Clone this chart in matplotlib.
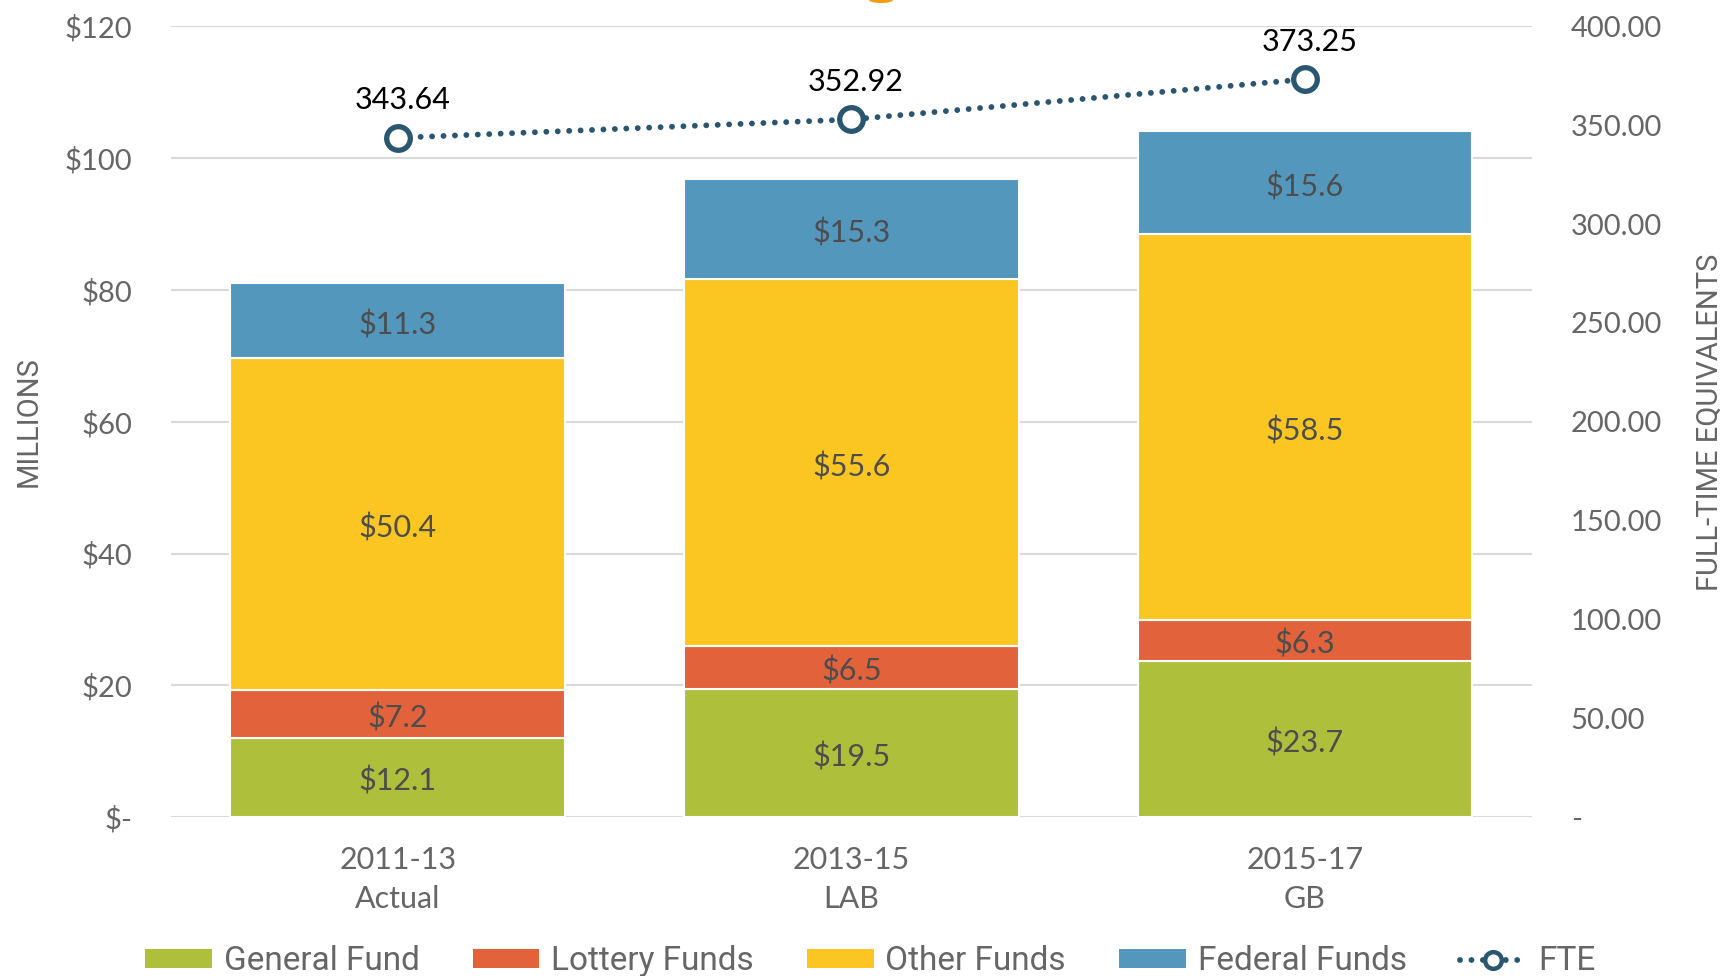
import matplotlib
matplotlib.use("Agg")
import matplotlib.pyplot as plt
from matplotlib.lines import Line2D
from matplotlib.patches import Patch, Ellipse
import numpy as np

categories = ["2011-13\nActual", "2013-15\nLAB", "2015-17\nGB"]
general_fund = [12.1, 19.5, 23.7]
lottery_funds = [7.2, 6.5, 6.3]
other_funds = [50.4, 55.6, 58.5]
federal_funds = [11.3, 15.3, 15.6]
fte = [343.64, 352.92, 373.25]
left_ticks = [0, 20, 40, 60, 80, 100, 120]
left_tick_labels = ["$-", "$20", "$40", "$60", "$80", "$100", "$120"]
right_ticks = [0, 50, 100, 150, 200, 250, 300, 350, 400]
right_tick_labels = ["-", "50.00", "100.00", "150.00", "200.00", "250.00", "300.00", "350.00", "400.00"]

c_green = "#AEBF3B"
c_red = "#E2623B"
c_yellow = "#FCC622"
c_blue = "#5497BD"
c_line = "#2B5670"
c_tick = "#666666"
c_lab = "#4D4D4D"

main_font = ["Lato", "DejaVu Sans"]
narrow_font = ["Roboto", "DejaVu Sans"]
dot_style = (0, (0.01, 1.95))

fig = plt.figure(figsize=(17.27, 9.76), dpi=100)
ax = fig.add_axes([0.099, 0.1626, 0.788, 0.8104])
x = np.arange(len(categories))
w = 0.738

series = [("General Fund", general_fund, c_green),
          ("Lottery Funds", lottery_funds, c_red),
          ("Other Funds", other_funds, c_yellow),
          ("Federal Funds", federal_funds, c_blue)]
bottom = np.zeros(len(categories))
for name, vals, col in series:
    vals = np.array(vals)
    ax.bar(x, vals, w, bottom=bottom, color=col, edgecolor="white", linewidth=1.5, zorder=3)
    for xi, b, v in zip(x, bottom, vals):
        ax.text(xi, b + v / 2 - 0.6, f"${v:.1f}", ha="center", va="center",
                fontsize=22, color=c_lab, family=main_font, zorder=4)
    bottom += vals

ax.set_xlim(-0.5, 2.5)
ax.set_ylim(0, 120)
ax.set_yticks(left_ticks)
ax.set_yticklabels(left_tick_labels, family=main_font, fontsize=21, color=c_tick)
ax.set_xticks(x)
ax.set_xticklabels(categories, family=main_font, fontsize=22, color=c_tick, linespacing=1.45)
ax.tick_params(axis="both", length=0)
ax.tick_params(axis="y", pad=28)
ax.tick_params(axis="x", pad=21)
for s in ax.spines.values():
    s.set_visible(False)
ax.grid(axis="y", color="#D9D9D9", linewidth=1.5, zorder=0)
ax.set_axisbelow(True)
ax.set_ylabel("MILLIONS", family=narrow_font, fontsize=21, color=c_tick, labelpad=16)

ax2 = ax.twinx()
ax2.set_ylim(0, 400)
ax2.set_yticks(right_ticks)
ax2.set_yticklabels(right_tick_labels, family=main_font, fontsize=21, color=c_tick)
ax2.tick_params(axis="y", length=0, pad=28)
for s in ax2.spines.values():
    s.set_visible(False)
ax2.plot(x, fte, linestyle=dot_style, linewidth=4.2, color=c_line,
         marker="o", markersize=17, markerfacecolor="white", markeredgecolor=c_line,
         markeredgewidth=3.8, zorder=5, dash_capstyle="round")
for xi, v in zip(x, fte):
    ax2.text(xi + 0.01, v + 12, f"{v:.2f}", ha="center", va="bottom",
             fontsize=22, color="black", family=main_font)
ax2.set_ylabel("FULL-TIME EQUIVALENTS", family=narrow_font, fontsize=21, color=c_tick,
               labelpad=24)

handles = [Patch(facecolor=c, label=n) for n, _, c in series]
handles.append(Line2D([0], [0], linestyle=dot_style, linewidth=4.2, color=c_line,
                      marker="o", markersize=12, markerfacecolor="white",
                      markeredgecolor=c_line, markeredgewidth=3.2, label="FTE",
                      dash_capstyle="round"))
leg = fig.legend(handles=handles, loc="center", bbox_to_anchor=(0.504, 0.015), ncol=5,
                 frameon=False, prop={"family": narrow_font, "size": 24},
                 handlelength=2.0, handleheight=0.48, columnspacing=1.6, handletextpad=0.35)
for t in leg.get_texts():
    t.set_color(c_tick)

fig.patches.append(Ellipse((881 / 1727, 1.0), 24 / 1727, 6 / 976, transform=fig.transFigure,
                           facecolor="#F39C12", edgecolor="none", figure=fig))

fig.savefig("out.png", dpi=100)
